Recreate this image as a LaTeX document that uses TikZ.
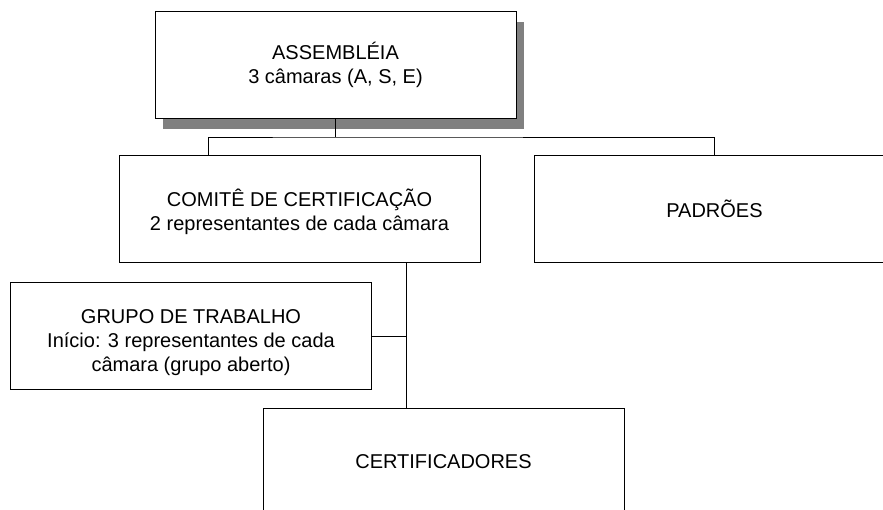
\documentclass[tikz,border=0pt]{standalone}
\usepackage{fontspec}
\setmainfont{Liberation Sans}
\usetikzlibrary{shadows}
\begin{document}
\begin{tikzpicture}[x=1pt,y=-1pt,
  orgbox/.style={draw=black, line width=0.9pt, fill=white, minimum width=361pt, minimum height=107pt,
    align=center, inner sep=0pt, font=\fontsize{20}{24}\selectfont},
  link/.style={draw=black, line width=0.9pt}]
\useasboundingbox (0,0) rectangle (883,510);
\clip (0,0) rectangle (883,510);
\fill[white] (0,0) rectangle (883,510);
\node[orgbox, general shadow={fill=black!50, shadow xshift=8pt, shadow yshift=-11pt}] (A) at (335.5,64.5) {ASSEMBLÉIA\\3 câmaras (A, S, E)};
\node[orgbox] (C) at (299.5,208.5) {\rule{0pt}{24pt}COMITÊ DE CERTIFICAÇÃO\\2 representantes de cada câmara};
\node[orgbox] (P) at (714.5,209) {PADRÕES};
\node[orgbox] (G) at (191,336) {\rule{0pt}{28pt}GRUPO DE TRABALHO\\Início: 3 representantes de cada\\câmara (grupo aberto)};
\node[orgbox] (K) at (443.5,461.5) {CERTIFICADORES};
\coordinate (bus) at (335.5,137);
\coordinate (v) at ([xshift=288pt]C.south west);
\coordinate (k) at ([xshift=144pt]K.north west);
\draw[link] (A.south) -- (bus);
\draw[link] ([xshift=90pt]C.north west) |- (bus) -| (P.north);
\draw[link] (v) -- (k);
\draw[link] (G.east) -- (G.east -| v);
\end{tikzpicture}
\end{document}
